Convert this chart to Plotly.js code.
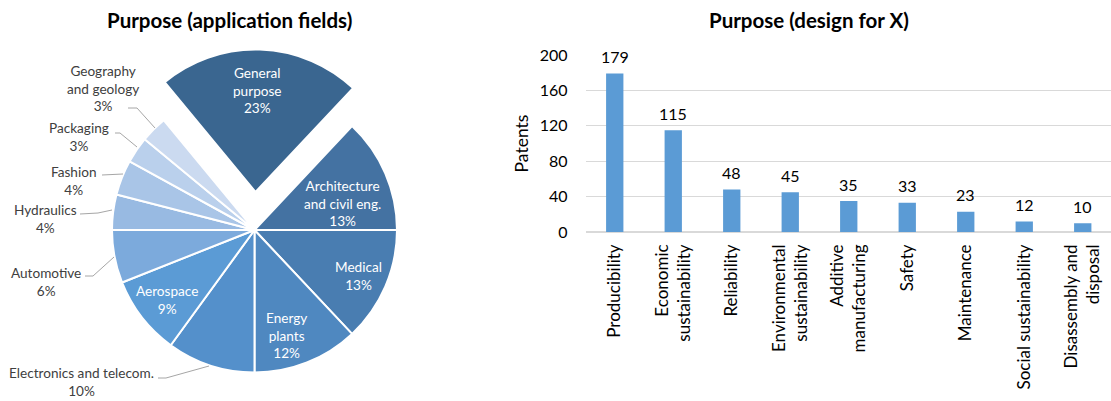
<!DOCTYPE html>
<html>
<head>
<meta charset="utf-8">
<script src="https://cdn.plot.ly/plotly-3.0.1.min.js"></script>
<style>html,body{margin:0;padding:0;background:#fff;}#chart{width:1111px;height:401px;}</style>
</head>
<body>
<div id="chart"></div>
<script>
// ---- Data: application fields (pie) ----
var fieldLabels = ['General<br>purpose', 'Architecture<br>and civil eng.', 'Medical', 'Energy<br>plants',
  'Electronics and telecom.', 'Aerospace', 'Automotive', 'Hydraulics', 'Fashion', 'Packaging', 'Geography<br>and geology'];
var fieldValues = [23, 13, 13, 12, 10, 9, 6, 4, 4, 3, 3];
var fieldColors = ['#3a6690', '#4472a2', '#497db1', '#4f88c0', '#5490cb', '#5b9bd5', '#7caadc', '#98bae2', '#a9c5e7', '#bad0ec', '#cbdaf0'];

// ---- Data: design for X (bars) ----
var dfxLabels = ['Producibility', 'Economic<br>sustainability', 'Reliability', 'Environmental<br>sustainability',
  'Additive<br>manufacturing', 'Safety', 'Maintenance', 'Social sustainability', 'Disassembly and<br>disposal'];
var dfxValues = [179, 115, 48, 45, 35, 33, 23, 12, 10];

var W = 1111, H = 401;
function px(x) { return x / W; }
function py(y) { return 1 - y / H; }

var FONT = 'Lato, "Open Sans", sans-serif';
var total = fieldValues.reduce(function (a, b) { return a + b; }, 0);

// pie geometry (pixels)
var cx = 254.5, cy = 230, R = 142.5, pullPx = 38, pullDx = 1;

var transparent = 'rgba(0,0,0,0)';
var baseColors = fieldColors.map(function (c, i) { return i === 0 ? transparent : c; });
var pulledColors = fieldColors.map(function (c, i) { return i === 0 ? c : transparent; });
var pulledLineW = fieldValues.map(function (v, i) { return i === 0 ? 2 : 0; });

var pieBase = {
  type: 'pie', values: fieldValues, labels: fieldLabels, sort: false, direction: 'clockwise',
  rotation: -39.6, textinfo: 'none', hoverinfo: 'label+percent', showlegend: false,
  marker: { colors: baseColors, line: { color: '#ffffff', width: 2 } },
  domain: { x: [px(cx - R), px(cx + R)], y: [py(cy + R), py(cy - R)] }
};
var piePulled = {
  type: 'pie', values: fieldValues, labels: fieldLabels, sort: false, direction: 'clockwise',
  rotation: -39.6, textinfo: 'none', hoverinfo: 'label+percent', showlegend: false,
  marker: { colors: pulledColors, line: { color: '#ffffff', width: pulledLineW } },
  domain: { x: [px(cx - R + pullDx), px(cx + R + pullDx)], y: [py(cy + R - pullPx), py(cy - R - pullPx)] }
};

var bars = {
  type: 'bar', x: dfxLabels, y: dfxValues, marker: { color: '#5b9bd5' },
  xaxis: 'x', yaxis: 'y', hoverinfo: 'x+y', showlegend: false
};

// label placement for the pie (pixel centres) and leader lines
var labelPos = [[257, 90], [342, 204], [358, 276], [286, 335], [81, 382], [167, 300],
  [46, 282], [45, 219], [74, 181], [79, 137], [103, 88]];
var inside = [true, true, true, true, false, true, false, false, false, false, false];
var leaders = [null, null, null, null,
  [[158, 378], [166, 378], [209, 366]], null,
  [[85, 276], [93, 276], [114, 257]],
  [[80, 214], [98, 213], [112, 210]],
  [[102, 175], [123, 174]],
  [[115, 133], [120, 133], [137, 147]],
  [[128, 108], [137, 108], [155, 128]]];

var annotations = [];
fieldLabels.forEach(function (lab, i) {
  annotations.push({
    xref: 'paper', yref: 'paper', x: px(labelPos[i][0]), y: py(labelPos[i][1]),
    xanchor: 'center', yanchor: 'middle', showarrow: false, align: 'center',
    text: lab + '<br>' + Math.round(fieldValues[i] / total * 100) + '%',
    font: { family: FONT, size: 13.6, color: inside[i] ? '#ffffff' : '#404040' }
  });
});
dfxLabels.forEach(function (lab, i) {
  annotations.push({
    xref: 'x', yref: 'y', x: lab, y: dfxValues[i], yanchor: 'middle', yshift: 17,
    showarrow: false, text: String(dfxValues[i]),
    font: { family: FONT, size: 16, color: '#000000' }
  });
});
// titles
annotations.push({ xref: 'paper', yref: 'paper', x: px(230), y: py(20), xanchor: 'center', yanchor: 'middle',
  showarrow: false, text: '<b>Purpose (application fields)</b>', font: { family: FONT, size: 20.5, color: '#000' } });
annotations.push({ xref: 'paper', yref: 'paper', x: px(808.5), y: py(20), xanchor: 'center', yanchor: 'middle',
  showarrow: false, text: '<b>Purpose (design for X)</b>', font: { family: FONT, size: 20.5, color: '#000' } });

var shapes = leaders.filter(function (l) { return l; }).map(function (pts) {
  var d = pts.map(function (p, k) { return (k ? 'L' : 'M') + px(p[0]) + ',' + py(p[1]); }).join(' ');
  return { type: 'path', xref: 'paper', yref: 'paper', path: d, line: { color: '#a6a6a6', width: 1 } };
});

var plotLeft = 585.5, catW = 58.5;
var layout = {
  width: W, height: H, margin: { l: 0, r: 0, t: 0, b: 0 }, paper_bgcolor: '#fff', plot_bgcolor: '#fff',
  font: { family: FONT, color: '#000' },
  bargap: 0.704,
  xaxis: {
    domain: [px(plotLeft), 1], range: [-0.5, -0.5 + (W - plotLeft) / catW], type: 'category',
    tickangle: -90, tickfont: { family: FONT, size: 17, color: '#000' }, showgrid: false, zeroline: false,
    showline: false, ticks: '', ticklabelstandoff: 8, fixedrange: true
  },
  yaxis: {
    domain: [py(232), py(55)], range: [0, 200], tickvals: [0, 40, 80, 120, 160, 200],
    tickfont: { family: FONT, size: 16, color: '#000' }, gridcolor: '#d9d9d9', gridwidth: 1,
    zeroline: true, zerolinecolor: '#d9d9d9', zerolinewidth: 1.5, showline: false, ticks: '',
    ticklabelstandoff: 17, fixedrange: true,
    title: { text: 'Patents', font: { family: FONT, size: 17.5, color: '#000' }, standoff: 6 }
  },
  annotations: annotations, shapes: shapes
};

Plotly.newPlot('chart', [pieBase, piePulled, bars], layout, { displayModeBar: false });
</script>
</body>
</html>
